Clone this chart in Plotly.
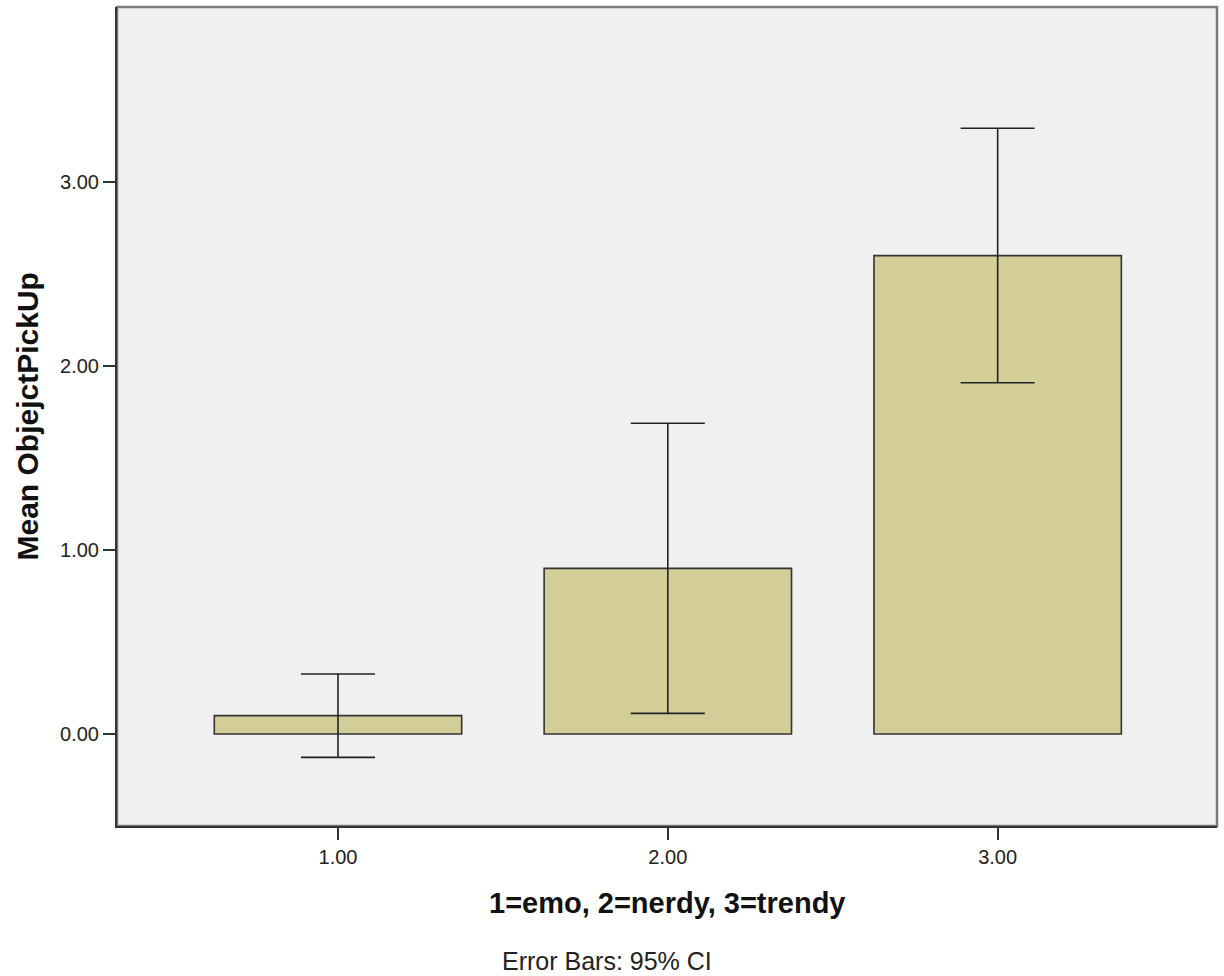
import plotly.graph_objects as go

categories = [1, 2, 3]
tick_labels = ["1.00", "2.00", "3.00"]
mean_values = [0.10, 0.90, 2.60]
ci_upper = [0.326, 1.689, 3.292]
ci_lower = [-0.127, 0.112, 1.909]
y_tick_vals = [0, 1, 2, 3]
y_tick_labels = ["0.00", "1.00", "2.00", "3.00"]

err_plus = [u - m for u, m in zip(ci_upper, mean_values)]
err_minus = [m - l for m, l in zip(mean_values, ci_lower)]

FONT = "Arial, Liberation Sans, sans-serif"

fig = go.Figure()
fig.add_trace(go.Bar(
    x=categories,
    y=mean_values,
    width=0.75,
    marker=dict(color="#D3CE98", line=dict(color="#333333", width=1.6)),
    error_y=dict(type="data", symmetric=False, array=err_plus, arrayminus=err_minus,
                 color="#222222", thickness=1.6, width=37),
    showlegend=False,
))

fig.update_layout(
    width=1224, height=976, autosize=False,
    margin=dict(l=117, r=7, t=7, b=150),
    paper_bgcolor="white",
    plot_bgcolor="#F0F0F0",
    font=dict(family=FONT, color="#222222"),
    shapes=[dict(type="rect", xref="paper", yref="paper", x0=0, x1=1, y0=0, y1=1,
                 line=dict(color="#7A7A7A", width=2.5), layer="below")],
    annotations=[
        dict(text="<b>Mean ObjejctPickUp</b>", xref="paper", yref="paper",
             x=(27 - 117) / 1100, y=0.5, textangle=-90, showarrow=False,
             xanchor="center", yanchor="middle", font=dict(size=30, color="#111111")),
        dict(text="<b>1=emo, 2=nerdy, 3=trendy</b>", xref="paper", yref="paper",
             x=(667 - 117) / 1100, y=(826 - 903) / 819, showarrow=False,
             xanchor="center", yanchor="middle", font=dict(size=29, color="#111111")),
        dict(text="Error Bars: 95% CI", xref="paper", yref="paper",
             x=(607 - 117) / 1100, y=(826 - 961) / 819, showarrow=False,
             xanchor="center", yanchor="middle", font=dict(size=25, color="#222222")),
    ],
)

fig.update_xaxes(
    range=[0.33, 3.665], tickvals=categories, ticktext=tick_labels,
    showgrid=False, zeroline=False, showline=True, linecolor="#333333", linewidth=2,
    ticks="outside", ticklen=12, tickwidth=2, tickcolor="#333333",
    tickfont=dict(size=20, family=FONT, color="#222222"),
)
fig.update_yaxes(
    range=[-0.5, 3.951], tickvals=y_tick_vals, ticktext=y_tick_labels,
    showgrid=False, zeroline=False, showline=True, linecolor="#333333", linewidth=2,
    ticks="outside", ticklen=12, tickwidth=2, tickcolor="#333333",
    tickfont=dict(size=20, family=FONT, color="#222222"),
)

fig.write_html("out.html", config={"displayModeBar": False},
               post_script="document.body.style.margin='0px';document.body.style.overflow='hidden';")
